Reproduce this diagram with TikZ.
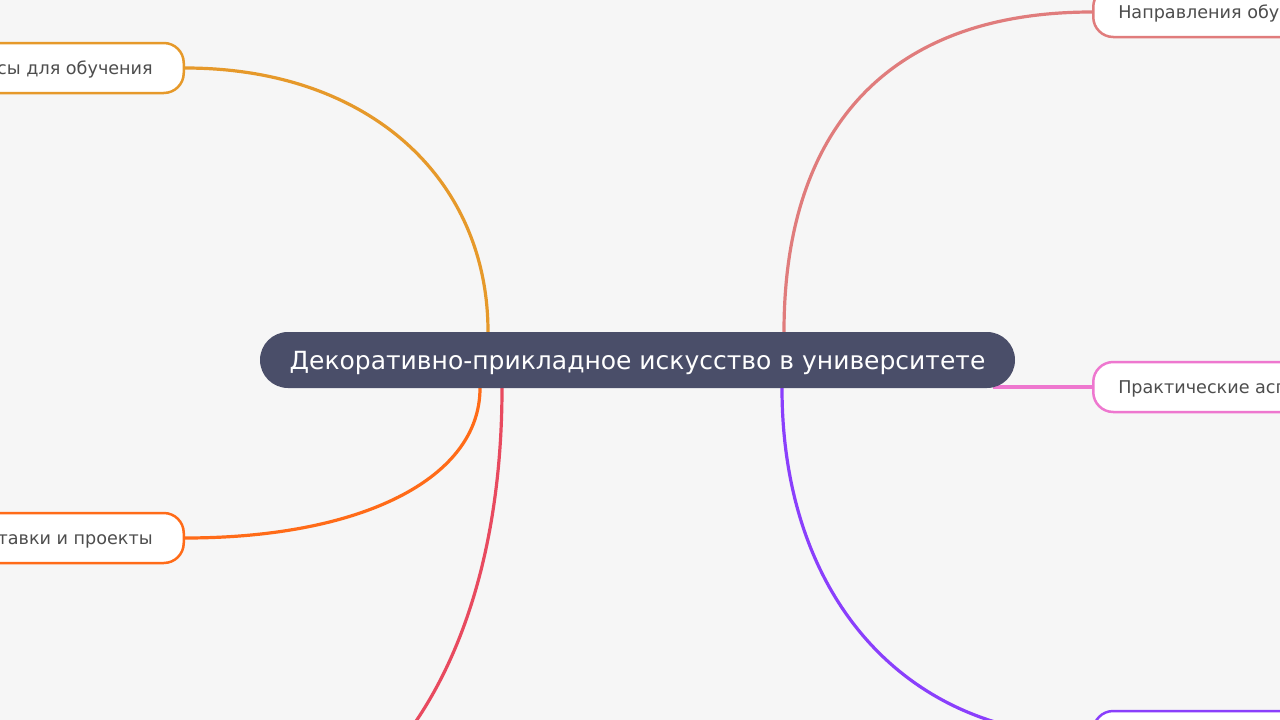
\documentclass[tikz,border=0pt]{standalone}
\usepackage{fontspec}
\setmainfont{DejaVu Sans}
\usetikzlibrary{backgrounds}

\definecolor{bgcol}{HTML}{F6F6F6}
\definecolor{maincol}{HTML}{4A4E69}
\definecolor{txtcol}{HTML}{4D4D4D}
\definecolor{orangecol}{HTML}{E6992A}
\definecolor{flamecol}{HTML}{FF6B18}
\definecolor{redcol}{HTML}{E84A5F}
\definecolor{salmoncol}{HTML}{E07C7C}
\definecolor{pinkcol}{HTML}{EE77CF}
\definecolor{purplecol}{HTML}{8A3FFC}

\tikzset{
  mainbox/.style={fill=maincol, text=white, rounded corners=28pt,
    minimum width=755pt, minimum height=56pt, inner sep=0pt, text depth=0pt,
    font=\fontsize{25}{30}\selectfont},
  leafbox/.style={fill=white, draw=#1, line width=2.5pt, text=txtcol,
    rounded corners=20pt, minimum height=50pt, inner xsep=25pt, text depth=0pt,
    font=\fontsize{17.6}{21}\selectfont},
  branch/.style={draw=#1, line width=3.2pt}
}

\begin{document}
\begin{tikzpicture}[x=1pt, y=-1pt]
  \useasboundingbox (0,0) rectangle (1280,720);
  \clip (0,0) rectangle (1280,720);
  % topic
  \node[mainbox] (main) at (637.5,360) {Декоративно-прикладное искусство в университете};
  % left side
  \node[leafbox=orangecol, anchor=east, inner xsep=31pt] (resources) at (185,68) {Ресурсы для обучения};
  \node[leafbox=flamecol, anchor=east, inner xsep=31pt] (exhibits) at (185,538) {Выставки и проекты};
  \coordinate (redend) at (185,850);
  % right side
  \node[leafbox=salmoncol, anchor=west] (directions) at (1092,12) {Направления обучения};
  \node[leafbox=pinkcol, anchor=west] (practice) at (1092,387) {Практические аспекты};
  \node[leafbox=purplecol, anchor=west, minimum width=320pt] (last) at (1092,736) {};
  \coordinate (pinkstart) at ([xshift=-22pt]main.south east);
  % connectors
  \begin{scope}[on background layer]
    \fill[bgcol] (0,0) rectangle (1280,720);
    \draw[branch=orangecol] ([xshift=-149.5pt]main.north) .. controls +(0,-152) and +(185,0) .. (resources.east);
    \draw[branch=flamecol] ([xshift=-157.5pt]main.south) .. controls +(0,90) and +(177,0) .. (exhibits.east);
    \draw[branch=redcol] ([xshift=-135.5pt]main.south) .. controls +(0,277) and +(190,0) .. (redend);
    \draw[branch=salmoncol] ([xshift=146.5pt]main.north) .. controls +(0,-207) and +(-200,0) .. (directions.west);
    \draw[branch=pinkcol] (pinkstart |- practice.west) -- (practice.west);
    \draw[branch=purplecol] ([xshift=144.5pt]main.south) .. controls +(0,209) and +(-186,0) .. (last.west);
  \end{scope}
\end{tikzpicture}
\end{document}
